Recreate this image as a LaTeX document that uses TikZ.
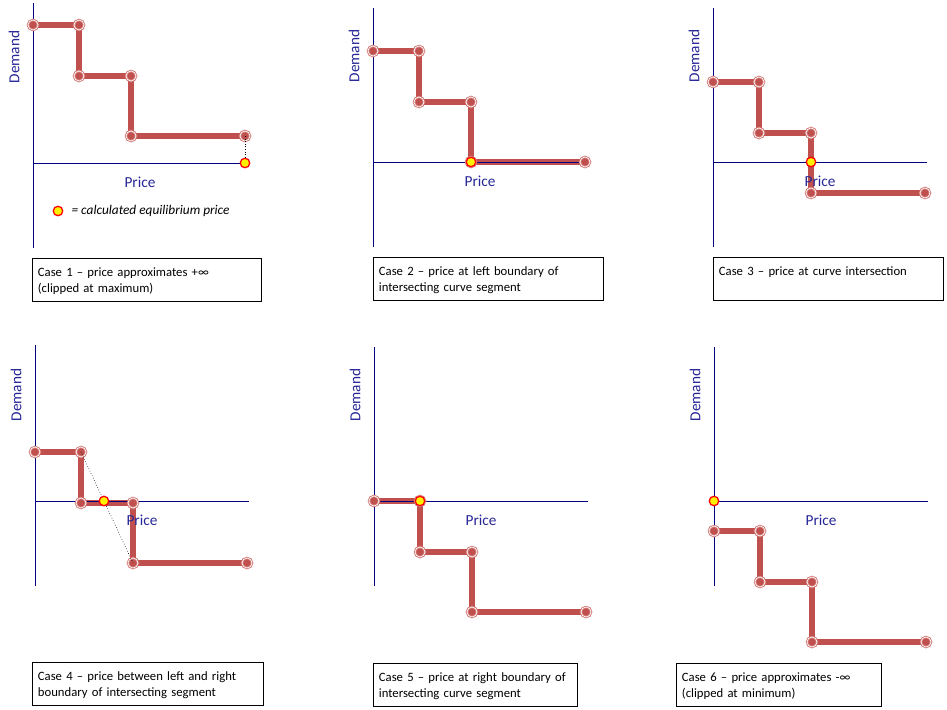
\documentclass[tikz,border=0pt]{standalone}
\usepackage{fontspec}
\setmainfont{Carlito}
\usetikzlibrary{positioning,calc,backgrounds}

\definecolor{axisblue}{RGB}{0,0,128}
\definecolor{labelblue}{RGB}{38,38,150}
\definecolor{stairred}{RGB}{192,80,77}
\definecolor{knotred}{RGB}{210,118,115}

\tikzset{
  axis/.style={draw=axisblue, line width=0.9pt},
  axislabel/.style={text=labelblue, font=\fontsize{15.3}{18}\selectfont, inner sep=0pt},
  stairline/.style={draw=stairred, line width=5.5pt},
  knot/.style={on grid, circle, inner sep=0pt, minimum size=10pt, fill=stairred,
    draw=knotred, double=white, double distance=0.7pt, line width=0.9pt},
  eqdot/.style={circle, inner sep=0pt, minimum size=9.5pt, fill=yellow, draw=red, line width=1.3pt},
  guide/.style={draw=black, dotted, line width=0.6pt},
  caption/.style={draw=black, line width=0.8pt, anchor=north west, align=left,
    inner xsep=5.5pt, inner ysep=5pt, text height=13pt, text depth=20pt,
    font=\fontsize{12.7}{16}\selectfont}
}

% axes of one case: #1 = case name, #2 = origin, #3 = height above origin
\newcommand{\DemandAxes}[3]{%
  \coordinate (#1o) at (#2);
  \coordinate[above=#3pt of #1o] (#1top);
  \coordinate[below=85pt of #1o] (#1bot);
  \coordinate[right=214pt of #1o] (#1end);
  \draw[axis] (#1top) -- (#1bot);
  \draw[axis] (#1o) -- (#1end);
  \node[axislabel, rotate=90] (#1demand) at ($(#1o)+(-19,-106)$) {Demand};
  \node[axislabel] (#1price) at ($(#1o)+(107,19)$) {Price};
}

% stepped demand curve: #1 = case name, #2 = first point
\newcommand{\StairCurve}[2]{%
  \node[knot] (#1a) at (#2) {};
  \node[knot, right=46pt of #1a] (#1b) {};
  \node[knot, below=51pt of #1b] (#1c) {};
  \node[knot, right=52pt of #1c] (#1d) {};
  \node[knot, below=60pt of #1d] (#1e) {};
  \node[knot, right=114pt of #1e] (#1f) {};
  \begin{pgfonlayer}{background}
    \draw[stairline] (#1a.center) -- (#1b.center) -- (#1c.center)
      -- (#1d.center) -- (#1e.center) -- (#1f.center);
  \end{pgfonlayer}
}

\begin{document}
\begin{tikzpicture}[x=1pt, y=-1pt]
  \useasboundingbox (0,0) rectangle (947,709);

  % case 1
  \DemandAxes{p1}{33,163}{160}
  \StairCurve{p1}{33,25}
  \node[eqdot] (p1eq) at (p1f |- p1o) {};
  \draw[guide] (p1f.center) -- (p1eq);
  \node[eqdot] (legenddot) at (58,211) {};
  \node[right=8pt of legenddot, inner sep=0pt, font=\fontsize{13.3}{16}\selectfont\itshape]
    (legendtext) {= calculated equilibrium price};
  \node[caption, minimum width=229pt, text width=218pt] (cap1) at (32,258)
    {Case 1 – price approximates +∞\\(clipped at maximum)};

  % case 2
  \DemandAxes{p2}{373,162}{154}
  \StairCurve{p2}{373,51}
  \node[eqdot] (p2eq) at (p2e) {};
  \node[caption, minimum width=230pt, text width=219pt] (cap2) at (373,257)
    {Case 2 – price at left boundary of\\intersecting curve segment};

  % case 3
  \DemandAxes{p3}{713,162}{154}
  \StairCurve{p3}{713,82}
  \node[eqdot] (p3eq) at (p3d |- p3o) {};
  \node[caption, minimum width=230pt, text width=219pt] (cap3) at (713,257)
    {Case 3 – price at curve intersection};

  % case 4
  \DemandAxes{p4}{35,501}{156}
  \StairCurve{p4}{35,452}
  \draw[guide] (p4b.center) -- (p4e.center);
  \node[eqdot] (p4eq) at (intersection of p4b--p4e and p4o--p4end) {};
  \node[caption, minimum width=231pt, text width=220pt] (cap4) at (32,662)
    {Case 4 – price between left and right\\boundary of intersecting segment};

  % case 5
  \DemandAxes{p5}{374,501}{154}
  \StairCurve{p5}{374,501}
  \node[eqdot] (p5eq) at (p5b) {};
  \node[caption, minimum width=204pt, text width=193pt] (cap5) at (373,663)
    {Case 5 – price at right boundary of\\intersecting curve segment};

  % case 6
  \DemandAxes{p6}{714,501}{154}
  \StairCurve{p6}{714,531}
  \node[eqdot] (p6eq) at (p6o) {};
  \node[caption, minimum width=205pt, text width=194pt] (cap6) at (676,663)
    {Case 6 – price approximates -∞\\(clipped at minimum)};
\end{tikzpicture}
\end{document}
